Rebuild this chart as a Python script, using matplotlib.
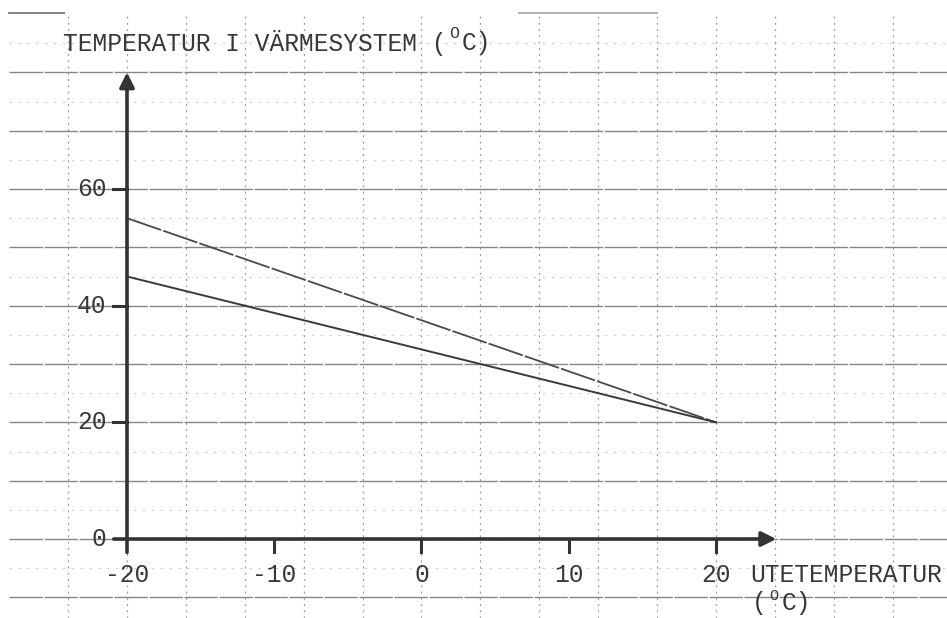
import matplotlib
matplotlib.use("Agg")
import matplotlib.pyplot as plt
import numpy as np

# ---- data ----
ute_temp = [-20, 20]                 # outdoor temperature (°C)
upper_curve = [55, 20]               # system temperature, upper curve
lower_curve = [45, 20]               # system temperature, lower curve
x_ticks = [-20, -10, 0, 10, 20]
x_tick_labels = ["-20", "-10", "0", "10", "20"]
y_ticks = [0, 20, 40, 60]
y_tick_labels = ["0", "20", "40", "60"]
y_title = "TEMPERATUR I VÄRMESYSTEM ("
x_title = "UTETEMPERATUR"

FONT = "Liberation Mono"
FS = 17.7
TXT = "#383838"

fig = plt.figure(figsize=(9.47, 6.18), dpi=100)
ax = fig.add_axes([0, 0, 1, 1])
ax.set_xlim(-28.625, 35.69)
ax.set_ylim(-13.54, 92.4)
ax.axis("off")

# character advance of the monospace font in data units
CH = 0.6 * FS / 72 * 100 / 14.725

# ---- graph paper ----
for gy in np.arange(-10, 90, 10):
    ax.plot([-28, 35.7], [gy, gy], color="#858585", lw=1.0,
            ls=(0, (24, 1.2)), zorder=1)
for gy in np.arange(-5, 90, 10):
    ax.plot([-28, 35.7], [gy, gy], color="#cccccc", lw=0.8,
            ls=(0, (2, 6)), zorder=1)
for gx in np.arange(-24, 36, 4):
    ax.plot([gx, gx], [-13.54, 90], color="#9a9a9a", lw=0.9,
            ls=(0, (1.5, 3.5)), zorder=1)
# partial top line of the paper
ax.plot([-28, -24.3], [90.2, 90.2], color="#777777", lw=1.3, zorder=1)
ax.plot([6.6, 16.0], [90.2, 90.2], color="#aaaaaa", lw=1.3, zorder=1)

# ---- axes with arrows ----
ax.annotate("", xy=(24.1, 0), xytext=(-20.9, 0),
            arrowprops=dict(arrowstyle="-|>", lw=2.6, color="#333333",
                            mutation_scale=22, shrinkA=0, shrinkB=0),
            zorder=4)
ax.annotate("", xy=(-20, 80), xytext=(-20, -2.3),
            arrowprops=dict(arrowstyle="-|>", lw=2.6, color="#333333",
                            mutation_scale=22, shrinkA=0, shrinkB=0),
            zorder=4)

# ticks
for t in x_ticks[1:]:
    ax.plot([t, t], [0, -2.2], color="#333333", lw=2.2, zorder=4)
for t in y_ticks[1:]:
    ax.plot([-20.95, -20], [t, t], color="#333333", lw=2.2, zorder=4)

# tick labels
for t, lab in zip(x_ticks, x_tick_labels):
    ax.text(t, -6.2, lab, ha="center", va="center", family=FONT,
            fontsize=FS, color=TXT, zorder=5)
for t, lab in zip(y_ticks, y_tick_labels):
    ax.text(-21.4, t, lab, ha="right", va="center", family=FONT,
            fontsize=FS, color=TXT, zorder=5)

# ---- data lines ----
ax.plot(ute_temp, upper_curve, color="#4a4a4a", lw=1.3,
        ls=(0, (20, 1.2)), zorder=3)
ax.plot(ute_temp, lower_curve, color="#3a3a3a", lw=1.4, zorder=3)

# ---- titles ----
tx0 = -24.35
n = len(y_title)
ax.text(tx0, 85.0, y_title, ha="left", va="center", family=FONT,
        fontsize=FS, color=TXT, zorder=5)
ax.text(tx0 + (n + 0.5) * CH, 86.7, "O", ha="center", va="center",
        family=FONT, fontsize=12, color=TXT, zorder=5)
ax.text(tx0 + (n + 1) * CH, 85.0, "C)", ha="left", va="center",
        family=FONT, fontsize=FS, color=TXT, zorder=5)

ax.text(22.3, -6.2, x_title, ha="left", va="center", family=FONT,
        fontsize=FS, color=TXT, zorder=5)
bx0 = 22.45
ax.text(bx0, -11.0, "(", ha="left", va="center", family=FONT,
        fontsize=FS, color=TXT, zorder=5)
ax.text(bx0 + 1.5 * CH, -9.8, "O", ha="center", va="center", family=FONT,
        fontsize=11, color=TXT, zorder=5)
ax.text(bx0 + 2 * CH, -11.0, "C)", ha="left", va="center", family=FONT,
        fontsize=FS, color=TXT, zorder=5)

fig.savefig("out.png", dpi=100, facecolor="white")
